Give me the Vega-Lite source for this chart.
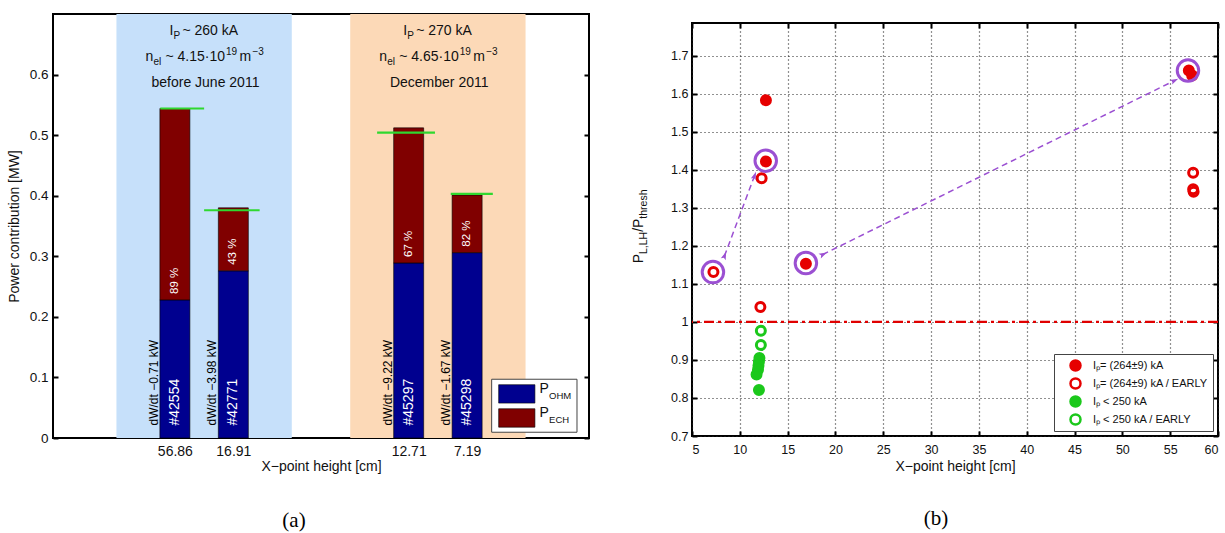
{
"$schema":"https://vega.github.io/schema/vega-lite/v6.json",
"padding":{"left":6,"top":12,"right":0,"bottom":0},
"spacing":39,
"resolve":{"legend":{"fill":"independent","stroke":"independent","color":"independent"},"scale":{"fill":"independent","stroke":"independent","color":"independent"}},
"datasets":{
"bands":[{"period":"before June 2011","start":1,"end":4,"ip":"~ 260 kA","ne":"~ 4.15·10"},{"period":"December 2011","start":5,"end":8,"ip":"~ 270 kA","ne":"~ 4.65·10"}],
"shots":[
{"shot":"#42554","pos":2,"ohm":0.228,"total":0.544,"thr":0.544,"t1":1.75,"t2":2.5,"pct":"89 %","dwdt":"dW/dt −0.71 kW"},
{"shot":"#42771","pos":3,"ohm":0.276,"total":0.380,"thr":0.376,"t1":2.5,"t2":3.45,"pct":"43 %","dwdt":"dW/dt −3.98 kW"},
{"shot":"#45297","pos":6,"ohm":0.289,"total":0.512,"thr":0.504,"t1":5.46,"t2":6.45,"pct":"67 %","dwdt":"dW/dt −9.22 kW"},
{"shot":"#45298","pos":7,"ohm":0.306,"total":0.401,"thr":0.403,"t1":6.72,"t2":7.44,"pct":"82 %","dwdt":"dW/dt −1.67 kW"}],
"pts":[
{"x":12.73,"y":1.583,"cat":"Iₚ= (264±9)  kA"},
{"x":12.73,"y":1.422,"cat":"Iₚ= (264±9)  kA"},
{"x":16.91,"y":1.153,"cat":"Iₚ= (264±9)  kA"},
{"x":56.95,"y":1.661,"cat":"Iₚ= (264±9)  kA"},
{"x":57.3,"y":1.648,"cat":"Iₚ= (264±9)  kA"},
{"x":12.28,"y":1.378,"cat":"Iₚ= (264±9) kA / EARLY"},
{"x":7.24,"y":1.131,"cat":"Iₚ= (264±9) kA / EARLY"},
{"x":12.15,"y":1.039,"cat":"Iₚ= (264±9) kA / EARLY"},
{"x":57.4,"y":1.392,"cat":"Iₚ= (264±9) kA / EARLY"},
{"x":57.4,"y":1.349,"cat":"Iₚ= (264±9) kA / EARLY"},
{"x":57.45,"y":1.342,"cat":"Iₚ= (264±9) kA / EARLY"},
{"x":12.05,"y":0.905,"cat":"Iₚ < 250 kA"},
{"x":12.0,"y":0.895,"cat":"Iₚ < 250 kA"},
{"x":11.95,"y":0.885,"cat":"Iₚ < 250 kA"},
{"x":11.9,"y":0.874,"cat":"Iₚ < 250 kA"},
{"x":11.75,"y":0.862,"cat":"Iₚ < 250 kA"},
{"x":12.0,"y":0.821,"cat":"Iₚ < 250 kA"},
{"x":12.2,"y":0.977,"cat":"Iₚ < 250 kA / EARLY"},
{"x":12.2,"y":0.939,"cat":"Iₚ < 250 kA / EARLY"}],
"rings":[{"x":7.19,"y":1.131},{"x":12.71,"y":1.424},{"x":16.91,"y":1.155},{"x":56.86,"y":1.661}],
"arrows":[{"seg":"a1","x1":8.39,"y1":1.173,"x2":11.52,"y2":1.383},{"seg":"a2","x1":18.66,"y1":1.177,"x2":55.4,"y2":1.634}]
},
"hconcat":[
{
"width":536,"height":424,
"title":{"text":"(a)","orient":"bottom","font":"Liberation Serif","fontSize":21,"fontWeight":"normal","color":"black","offset":37,"dx":-27},
"resolve":{"axis":{"x":"independent","y":"independent"}},
"layer":[
{"data":{"name":"bands"},"mark":{"type":"rect"},
 "encoding":{
  "x":{"field":"start","type":"quantitative","scale":{"domain":[0,9],"nice":false,"zero":false},
       "axis":{"orient":"bottom","values":[2,3,6,7],"labelExpr":"datum.value == 2 ? '56.86' : datum.value == 3 ? '16.91' : datum.value == 6 ? '12.71' : '7.19'","title":"X−point height [cm]","labelFontSize":14,"titleFontSize":14,"grid":false,"labelPadding":11,"titlePadding":1}},
  "x2":{"field":"end"},
  "y":{"datum":0,"type":"quantitative","scale":{"domain":[0,0.7],"nice":false},
       "axis":{"orient":"left","values":[0,0.1,0.2,0.3,0.4,0.5,0.6],"format":".1~f","title":"Power contribution [MW]","labelFontSize":13.5,"titleFontSize":14,"grid":false,"labelPadding":10,"titlePadding":8}},
  "y2":{"datum":0.7},
  "color":{"field":"period","type":"nominal","scale":{"domain":["before June 2011","December 2011"],"range":["#C6E0FA","#FCD9B7"]},"legend":null}
 }},
{"data":{"name":"shots"},"mark":{"type":"bar","size":30,"color":"#00008F","stroke":"#000","strokeWidth":0.6},
 "encoding":{
  "x":{"field":"pos","type":"quantitative","axis":{"orient":"top","values":[2,3,6,7],"labels":false,"title":null,"grid":false}},
  "y":{"field":"ohm","type":"quantitative","axis":{"orient":"right","values":[0,0.1,0.2,0.3,0.4,0.5,0.6],"labels":false,"title":null,"grid":false}}}},
{"data":{"name":"shots"},"mark":{"type":"bar","size":30,"color":"#800000","stroke":"#000","strokeWidth":0.6},
 "encoding":{
  "x":{"field":"pos","type":"quantitative","axis":null},
  "y":{"field":"ohm","type":"quantitative","axis":null},
  "y2":{"field":"total"}}},
{"data":{"name":"shots"},"mark":{"type":"rule","color":"#2FD82F","strokeWidth":2.2},
 "encoding":{
  "x":{"field":"t1","type":"quantitative","axis":null},
  "x2":{"field":"t2"},
  "y":{"field":"thr","type":"quantitative","axis":null}}},
{"data":{"name":"shots"},"mark":{"type":"text","angle":270,"align":"left","baseline":"middle","color":"white","fontSize":11.5,"dx":6},
 "encoding":{
  "x":{"field":"pos","type":"quantitative","axis":null},
  "y":{"field":"ohm","type":"quantitative","axis":null},
  "text":{"field":"pct"}}},
{"data":{"name":"shots"},"mark":{"type":"text","angle":270,"align":"left","baseline":"middle","color":"white","fontSize":14,"dx":12.5},
 "encoding":{
  "x":{"field":"pos","type":"quantitative","axis":null},
  "y":{"datum":0,"type":"quantitative","axis":null},
  "text":{"field":"shot"}}},
{"data":{"name":"shots"},"mark":{"type":"text","angle":270,"align":"left","baseline":"middle","color":"black","fontSize":12,"dx":12.5,"dy":-21},
 "encoding":{
  "x":{"field":"pos","type":"quantitative","axis":null},
  "y":{"datum":0,"type":"quantitative","axis":null},
  "text":{"field":"dwdt"}}},
{"data":{"name":"bands"},"mark":{"type":"text","align":"left","baseline":"alphabetic","fontSize":14,"color":"#111","dx":53,"text":"I"},
 "encoding":{"x":{"field":"start","type":"quantitative","axis":null},"y":{"datum":0.665,"type":"quantitative","axis":null}}},
{"data":{"name":"bands"},"mark":{"type":"text","align":"left","baseline":"alphabetic","fontSize":10,"color":"#111","dx":57,"dy":4,"text":"P"},
 "encoding":{"x":{"field":"start","type":"quantitative","axis":null},"y":{"datum":0.665,"type":"quantitative","axis":null}}},
{"data":{"name":"bands"},"mark":{"type":"text","align":"left","baseline":"alphabetic","fontSize":14,"color":"#111","dx":66},
 "encoding":{"x":{"field":"start","type":"quantitative","axis":null},"y":{"datum":0.665,"type":"quantitative","axis":null},"text":{"field":"ip"}}},
{"data":{"name":"bands"},"mark":{"type":"text","align":"left","baseline":"alphabetic","fontSize":14,"color":"#111","dx":29,"text":"n"},
 "encoding":{"x":{"field":"start","type":"quantitative","axis":null},"y":{"datum":0.622,"type":"quantitative","axis":null}}},
{"data":{"name":"bands"},"mark":{"type":"text","align":"left","baseline":"alphabetic","fontSize":10,"color":"#111","dx":37,"dy":4,"text":"el"},
 "encoding":{"x":{"field":"start","type":"quantitative","axis":null},"y":{"datum":0.622,"type":"quantitative","axis":null}}},
{"data":{"name":"bands"},"mark":{"type":"text","align":"left","baseline":"alphabetic","fontSize":14,"color":"#111","dx":49},
 "encoding":{"x":{"field":"start","type":"quantitative","axis":null},"y":{"datum":0.622,"type":"quantitative","axis":null},"text":{"field":"ne"}}},
{"data":{"name":"bands"},"mark":{"type":"text","align":"left","baseline":"alphabetic","fontSize":10,"color":"#111","dx":109.5,"dy":-6,"text":"19"},
 "encoding":{"x":{"field":"start","type":"quantitative","axis":null},"y":{"datum":0.622,"type":"quantitative","axis":null}}},
{"data":{"name":"bands"},"mark":{"type":"text","align":"left","baseline":"alphabetic","fontSize":14,"color":"#111","dx":123,"text":"m"},
 "encoding":{"x":{"field":"start","type":"quantitative","axis":null},"y":{"datum":0.622,"type":"quantitative","axis":null}}},
{"data":{"name":"bands"},"mark":{"type":"text","align":"left","baseline":"alphabetic","fontSize":10,"color":"#111","dx":136,"dy":-6,"text":"−3"},
 "encoding":{"x":{"field":"start","type":"quantitative","axis":null},"y":{"datum":0.622,"type":"quantitative","axis":null}}},
{"data":{"name":"bands"},"mark":{"type":"text","align":"center","baseline":"alphabetic","fontSize":14,"color":"#111","dx":89},
 "encoding":{"x":{"field":"start","type":"quantitative","axis":null},"y":{"datum":0.579,"type":"quantitative","axis":null},"text":{"field":"period"}}},
{"data":{"values":[{}]},"mark":{"type":"rect","fill":"white","stroke":"#444","strokeWidth":1},
 "encoding":{"x":{"datum":7.42,"type":"quantitative","axis":null},"x2":{"datum":8.88},"y":{"datum":0.0095,"type":"quantitative","axis":null},"y2":{"datum":0.097}}},
{"data":{"values":[{}]},"mark":{"type":"rect","fill":"#00008F","stroke":"#000","strokeWidth":0.6},
 "encoding":{"x":{"datum":7.54,"type":"quantitative","axis":null},"x2":{"datum":8.16},"y":{"datum":0.0576,"type":"quantitative","axis":null},"y2":{"datum":0.088}}},
{"data":{"values":[{}]},"mark":{"type":"rect","fill":"#800000","stroke":"#000","strokeWidth":0.6},
 "encoding":{"x":{"datum":7.54,"type":"quantitative","axis":null},"x2":{"datum":8.16},"y":{"datum":0.0179,"type":"quantitative","axis":null},"y2":{"datum":0.0483}}},
{"data":{"values":[{}]},"mark":{"type":"text","align":"left","baseline":"alphabetic","fontSize":14,"color":"#111","text":"P"},
 "encoding":{"x":{"datum":8.24,"type":"quantitative","axis":null},"y":{"datum":0.0742,"type":"quantitative","axis":null}}},
{"data":{"values":[{}]},"mark":{"type":"text","align":"left","baseline":"alphabetic","fontSize":9.5,"color":"#111","dx":9.5,"dy":6,"text":"OHM"},
 "encoding":{"x":{"datum":8.24,"type":"quantitative","axis":null},"y":{"datum":0.0742,"type":"quantitative","axis":null}}},
{"data":{"values":[{}]},"mark":{"type":"text","align":"left","baseline":"alphabetic","fontSize":14,"color":"#111","text":"P"},
 "encoding":{"x":{"datum":8.24,"type":"quantitative","axis":null},"y":{"datum":0.0345,"type":"quantitative","axis":null}}},
{"data":{"values":[{}]},"mark":{"type":"text","align":"left","baseline":"alphabetic","fontSize":9.5,"color":"#111","dx":9.5,"dy":6,"text":"ECH"},
 "encoding":{"x":{"datum":8.24,"type":"quantitative","axis":null},"y":{"datum":0.0345,"type":"quantitative","axis":null}}}
]
},
{
"spacing":6,
"resolve":{"legend":{"fill":"independent","stroke":"independent","color":"independent"},"scale":{"fill":"independent","stroke":"independent","color":"independent"}},
"vconcat":[
{"width":526,"height":1,"view":{"stroke":null},"data":{"values":[{}]},"mark":{"type":"text","text":"","fontSize":0},"encoding":{}},
{
"width":526,"height":413,
"title":{"text":"(b)","orient":"bottom","font":"Liberation Serif","fontSize":21,"fontWeight":"normal","color":"black","offset":34,"dx":-19},
"resolve":{"axis":{"x":"independent","y":"independent"}},
"layer":[
{"data":{"values":[{}]},"mark":{"type":"rule","color":"#E00000","strokeWidth":2.4,"strokeDash":[10,4,3,4]},
 "encoding":{"y":{"datum":1,"type":"quantitative","scale":{"domain":[0.7,1.786],"nice":false,"zero":false},"axis":null}}},
{"data":{"name":"pts"},"mark":{"type":"point","shape":"circle","size":81,"strokeWidth":3,"opacity":1},
 "encoding":{
  "x":{"field":"x","type":"quantitative","scale":{"domain":[5,60],"nice":false,"zero":false},
       "axis":{"orient":"bottom","values":[5,10,15,20,25,30,35,40,45,50,55,60],"title":"X−point height [cm]","labelFontSize":12.5,"titleFontSize":14,"grid":true,"gridDash":[1,3],"gridColor":"#222","gridWidth":1.2,"labelPadding":12,"titlePadding":4}},
  "y":{"field":"y","type":"quantitative",
       "axis":{"orient":"left","values":[0.7,0.8,0.9,1,1.1,1.2,1.3,1.4,1.5,1.6,1.7],"format":".1~f","title":null,"labelFontSize":12.5,"grid":true,"gridDash":[1,3],"gridColor":"#222","gridWidth":1.2,"labelPadding":9}},
  "fill":{"field":"cat","type":"nominal","scale":{"domain":["Iₚ= (264±9)  kA","Iₚ= (264±9) kA / EARLY","Iₚ < 250 kA","Iₚ < 250 kA / EARLY"],"range":["#E60000","transparent","#1BC81B","transparent"]},
          "legend":{"orient":"bottom-right","offset":5,"title":null,"strokeColor":"#444","fillColor":"white","padding":5,"labelFontSize":11,"labelFont":"Liberation Sans","labelColor":"#111","symbolSize":100,"symbolStrokeWidth":2.5,"symbolOffset":10,"labelOffset":11,"rowPadding":5,"clipHeight":13,"symbolType":"circle"}},
  "stroke":{"field":"cat","type":"nominal","scale":{"domain":["Iₚ= (264±9)  kA","Iₚ= (264±9) kA / EARLY","Iₚ < 250 kA","Iₚ < 250 kA / EARLY"],"range":["#E60000","#E60000","#1BC81B","#1BC81B"]},
          "legend":{"orient":"bottom-right","offset":5,"title":null,"strokeColor":"#444","fillColor":"white","padding":5,"labelFontSize":11,"labelFont":"Liberation Sans","labelColor":"#111","symbolSize":100,"symbolStrokeWidth":2.5,"symbolOffset":10,"labelOffset":11,"rowPadding":5,"clipHeight":13,"symbolType":"circle"}}
 }},
{"data":{"name":"rings"},"mark":{"type":"point","shape":"circle","size":462,"strokeWidth":3,"color":"#9B50D2","filled":false,"opacity":1},
 "encoding":{
  "x":{"field":"x","type":"quantitative","axis":{"orient":"top","values":[5,10,15,20,25,30,35,40,45,50,55,60],"labels":false,"grid":false,"title":null}},
  "y":{"field":"y","type":"quantitative","axis":{"orient":"right","values":[0.7,0.8,0.9,1,1.1,1.2,1.3,1.4,1.5,1.6,1.7],"labels":false,"grid":false,"title":null}}}},
{"data":{"name":"arrows"},"mark":{"type":"rule","color":"#9B50D2","strokeWidth":1.5,"strokeDash":[6,4]},
 "encoding":{
  "x":{"field":"x1","type":"quantitative","axis":null},"y":{"field":"y1","type":"quantitative","axis":null},
  "x2":{"field":"x2"},"y2":{"field":"y2"}}},
{"data":{"name":"arrows"},"mark":{"type":"point","shape":"M0,-1L0.55,0.7L0,0.35L-0.55,0.7Z","size":90,"filled":true,"color":"#9B50D2","opacity":1},
 "encoding":{
  "x":{"field":"x2","type":"quantitative","axis":null},"y":{"field":"y2","type":"quantitative","axis":null},
  "angle":{"field":"seg","type":"nominal","scale":{"domain":["a1","a2"],"range":[20.6,63.7]},"legend":null}}},
{"data":{"name":"arrows"},"mark":{"type":"point","shape":"M0,-1L0.55,0.7L0,0.35L-0.55,0.7Z","size":90,"filled":true,"color":"#9B50D2","opacity":1},
 "encoding":{
  "x":{"field":"x1","type":"quantitative","axis":null},"y":{"field":"y1","type":"quantitative","axis":null},
  "angle":{"field":"seg","type":"nominal","scale":{"domain":["a1","a2"],"range":[200.6,243.7]},"legend":null}}},
{"data":{"values":[{}]},"mark":{"type":"text","angle":270,"align":"left","baseline":"alphabetic","fontSize":14,"color":"#111","text":"P"},
 "encoding":{"x":{"datum":-0.15,"type":"quantitative","axis":null},"y":{"datum":1.154,"type":"quantitative","axis":null}}},
{"data":{"values":[{}]},"mark":{"type":"text","angle":270,"align":"left","baseline":"alphabetic","fontSize":10.5,"color":"#111","dx":9.3,"dy":4,"text":"L,LH"},
 "encoding":{"x":{"datum":-0.15,"type":"quantitative","axis":null},"y":{"datum":1.154,"type":"quantitative","axis":null}}},
{"data":{"values":[{}]},"mark":{"type":"text","angle":270,"align":"left","baseline":"alphabetic","fontSize":14,"color":"#111","dx":31.5,"text":"/P"},
 "encoding":{"x":{"datum":-0.15,"type":"quantitative","axis":null},"y":{"datum":1.154,"type":"quantitative","axis":null}}},
{"data":{"values":[{}]},"mark":{"type":"text","angle":270,"align":"left","baseline":"alphabetic","fontSize":10.5,"color":"#111","dx":44.7,"dy":4,"text":"thresh"},
 "encoding":{"x":{"datum":-0.15,"type":"quantitative","axis":null},"y":{"datum":1.154,"type":"quantitative","axis":null}}}
]
}
]
}
],
"config":{
 "font":"Liberation Sans",
 "view":{"stroke":"black","strokeWidth":2},
 "axis":{"domain":false,"labelFont":"Liberation Sans","titleFont":"Liberation Sans","titleFontWeight":"normal","labelColor":"#111","titleColor":"#111","tickColor":"black","tickWidth":2,"tickSize":-5}
}
}
